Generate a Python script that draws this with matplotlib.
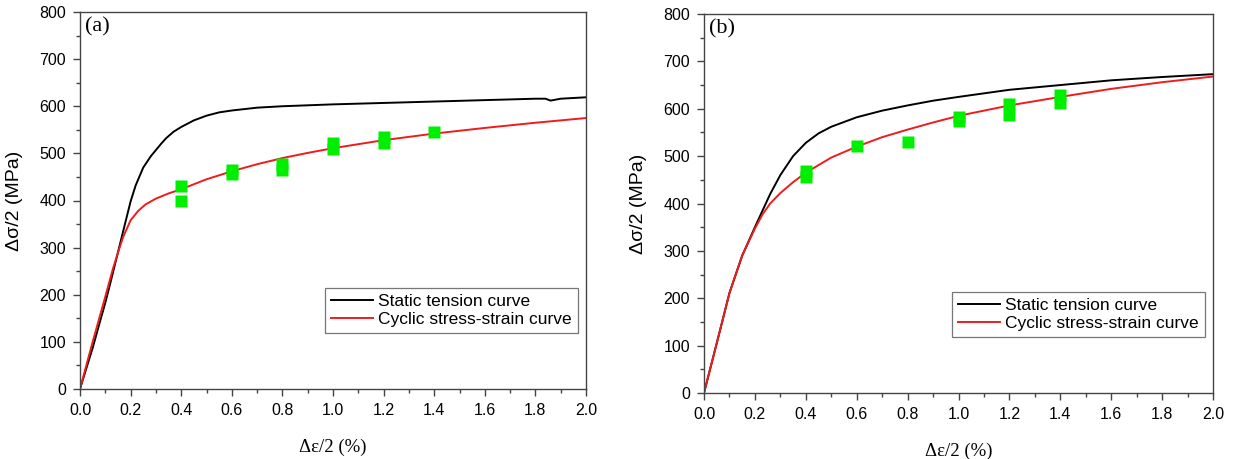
import matplotlib
matplotlib.use("Agg")
import matplotlib.pyplot as plt
from matplotlib.ticker import MultipleLocator

# panel (a)
a_static_x = [0, 0.02, 0.05, 0.08, 0.10, 0.12, 0.15, 0.18, 0.20, 0.22, 0.25, 0.28, 0.30, 0.32,
              0.34, 0.37, 0.40, 0.45, 0.50, 0.55, 0.60, 0.70, 0.80, 0.90, 1.0, 1.2, 1.4, 1.6,
              1.8, 1.84, 1.86, 1.90, 2.0]
a_static_y = [0, 35, 87, 145, 183, 225, 290, 355, 398, 432, 470, 494, 507, 520,
              532, 546, 556, 570, 580, 587, 591, 597, 600, 602, 604, 607, 610, 613,
              616, 616, 612, 616, 619]
a_cyc_x = [0, 0.05, 0.10, 0.13, 0.15, 0.17, 0.20, 0.23, 0.26, 0.30, 0.35, 0.40, 0.50, 0.60,
           0.70, 0.80, 0.90, 1.0, 1.2, 1.4, 1.6, 1.8, 2.0]
a_cyc_y = [0, 100, 196, 255, 289, 322, 358, 378, 392, 404, 415, 424, 445, 462,
           477, 490, 501, 511, 528, 542, 554, 565, 575]
a_pts_x = [0.4, 0.4, 0.6, 0.6, 0.8, 0.8, 1.0, 1.0, 1.2, 1.2, 1.4]
a_pts_y = [430, 400, 457, 465, 465, 478, 510, 522, 522, 535, 545]

# panel (b)
b_static_x = [0, 0.05, 0.10, 0.15, 0.20, 0.23, 0.26, 0.30, 0.35, 0.40, 0.45, 0.50, 0.60, 0.70,
              0.80, 0.90, 1.0, 1.2, 1.4, 1.6, 1.8, 2.0]
b_static_y = [0, 105, 211, 290, 350, 385, 420, 460, 500, 528, 548, 562, 582, 596,
              607, 617, 625, 640, 650, 660, 667, 673]
b_cyc_x = [0, 0.05, 0.10, 0.15, 0.20, 0.23, 0.26, 0.30, 0.35, 0.40, 0.50, 0.60, 0.70, 0.80,
           0.90, 1.0, 1.2, 1.4, 1.6, 1.8, 2.0]
b_cyc_y = [0, 105, 211, 290, 347, 377, 400, 422, 445, 465, 497, 520, 540, 556,
           571, 585, 607, 625, 642, 656, 668]
b_pts_x = [0.4, 0.4, 0.6, 0.8, 1.0, 1.0, 1.2, 1.2, 1.4, 1.4]
b_pts_y = [455, 468, 522, 530, 575, 582, 587, 610, 613, 628]

panels = [
    ("(a)", a_static_x, a_static_y, a_cyc_x, a_cyc_y, a_pts_x, a_pts_y),
    ("(b)", b_static_x, b_static_y, b_cyc_x, b_cyc_y, b_pts_x, b_pts_y),
]

fig = plt.figure(figsize=(12.34, 4.59), dpi=100)
boxes = [[80 / 1234, 1 - 389 / 459, 506 / 1234, 377 / 459],
         [704 / 1234, 1 - 393 / 459, 509 / 1234, 379 / 459]]

sans = "Liberation Sans"
serif = "Liberation Serif"

for box, (tag, sx, sy, cx, cy, px, py) in zip(boxes, panels):
    ax = fig.add_axes(box)
    ax.plot(sx, sy, color="black", lw=1.4, label="Static tension curve")
    ax.plot(cx, cy, color="#ee1c1c", lw=1.4, label="Cyclic stress-strain curve")
    ax.plot(px, py, "s", color="#00ee00", ms=8, mec="none", zorder=3)
    ax.set_xlim(0, 2.0)
    ax.set_ylim(0, 800)
    ax.xaxis.set_major_locator(MultipleLocator(0.2))
    ax.xaxis.set_minor_locator(MultipleLocator(0.1))
    ax.yaxis.set_major_locator(MultipleLocator(100))
    ax.yaxis.set_minor_locator(MultipleLocator(50))
    ax.tick_params(which="both", direction="out", top=False, right=False,
                   color="#444444", width=1.0)
    ax.tick_params(which="major", length=5, labelsize=11.5, pad=5)
    ax.tick_params(which="minor", length=3)
    for lab in ax.get_yticklabels():
        lab.set_fontfamily(sans)
    ax.set_xticklabels(["%.1f" % v for v in ax.get_xticks()], fontfamily=sans, fontsize=11.5)
    for s in ax.spines.values():
        s.set_color("#444444")
        s.set_linewidth(1.0)
    ax.set_xlabel("\u0394\u03b5/2 (%)", fontfamily=serif, fontsize=13.5, labelpad=15)
    ax.set_ylabel("\u0394\u03c3/2 (MPa)", fontfamily=sans, fontsize=14, labelpad=12)
    ax.text(0.01, 0.985, tag, transform=ax.transAxes, fontfamily=serif, fontsize=16,
            va="top", ha="left")
    leg = ax.legend(loc="lower right", bbox_to_anchor=(0.984, 0.148), fancybox=False,
                    prop={"family": sans, "size": 12.5}, handlelength=2.4, borderpad=0.35,
                    labelspacing=0.15, handletextpad=0.3, borderaxespad=0)
    leg.get_frame().set_edgecolor("#555555")
    leg.get_frame().set_linewidth(0.9)

fig.savefig("out.png", dpi=100)
